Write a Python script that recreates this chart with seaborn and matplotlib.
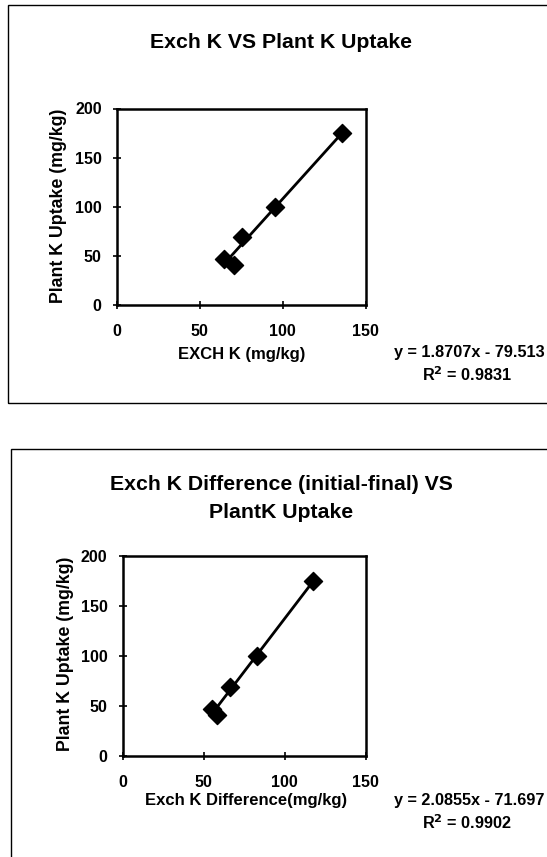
import numpy as np
import pandas as pd
import seaborn as sns
import matplotlib.pyplot as plt
from matplotlib.patches import Rectangle

# -----------------------------
# Data
# -----------------------------
plant_k_uptake = [47, 41, 69, 100, 175]
exch_k = [64.6, 70.6, 75.7, 95.3, 136]
exch_k_diff = [55, 58, 66, 83, 117.5]

top_eq = 'y = 1.8707x - 79.513'
top_r2 = 'R$^2$ = 0.9831'
bot_eq = 'y = 2.0855x - 71.697'
bot_r2 = 'R$^2$ = 0.9902'

x_ticks = [0, 50, 100, 150]
y_ticks = [0, 50, 100, 150, 200]

df_top = pd.DataFrame({'ExchK': exch_k, 'Uptake': plant_k_uptake})
df_bot = pd.DataFrame({'ExchKDiff': exch_k_diff, 'Uptake': plant_k_uptake})

# -----------------------------
# Style
# -----------------------------
sns.set_theme(style='ticks')
plt.rcParams['font.family'] = ['Liberation Sans', 'DejaVu Sans']
plt.rcParams['font.weight'] = 'bold'
plt.rcParams['text.color'] = 'black'
plt.rcParams['axes.labelcolor'] = 'black'
plt.rcParams['mathtext.default'] = 'bf'

W, H = 547, 857
fig = plt.figure(figsize=(W / 100, H / 100), dpi=100)
fig.patch.set_facecolor('white')

# outer chart frames
fig.patches.append(Rectangle((7.7 / W, 1 - 403 / H), 1.0, (403 - 5) / H,
                             transform=fig.transFigure, fill=False,
                             edgecolor='black', linewidth=1.0))
fig.patches.append(Rectangle((11 / W, -0.05), 1.0, 0.05 + (857 - 449) / H,
                             transform=fig.transFigure, fill=False,
                             edgecolor='black', linewidth=1.0))


def make_axes(left, top, right, bottom):
    return fig.add_axes([left / W, 1 - bottom / H, (right - left) / W, (bottom - top) / H])


def style_axes(ax):
    ax.set_xlim(0, 150)
    ax.set_ylim(0, 200)
    ax.set_xticks(x_ticks)
    ax.set_yticks(y_ticks)
    for s in ax.spines.values():
        s.set_visible(True)
        s.set_color('black')
        s.set_linewidth(1.8)
    ax.tick_params(axis='both', direction='inout', length=6, width=1.2,
                   colors='black', labelsize=11.5, bottom=True, left=True)
    ax.tick_params(axis='x', pad=11)
    ax.tick_params(axis='y', pad=8)
    for lab in ax.get_xticklabels() + ax.get_yticklabels():
        lab.set_fontweight('bold')


# -----------------------------
# 1. Exch K vs Plant K Uptake
# -----------------------------
ax1 = make_axes(117, 108.5, 365.5, 305)
sns.regplot(x='ExchK', y='Uptake', data=df_top, ax=ax1, ci=None, marker='D',
            scatter_kws={'s': 85, 'color': 'black', 'alpha': 1},
            line_kws={'color': 'black', 'linewidth': 2})
style_axes(ax1)
ax1.set_xlabel('EXCH K (mg/kg)', fontsize=12, fontweight='bold', va='center')
ax1.set_ylabel('Plant K Uptake (mg/kg)', fontsize=12.8, fontweight='bold', va='center')
ax1.xaxis.set_label_coords(0.5, -(354 - 305) / 196.5)
ax1.yaxis.set_label_coords(-(117 - 59) / 248.5, 0.505)

fig.text(281 / W, 1 - 42.7 / H, 'Exch K VS Plant K Uptake', ha='center', va='center',
         fontsize=15.3, fontweight='bold')
fig.text(469 / W, 1 - 353 / H, top_eq, ha='center', va='center', fontsize=11.7, fontweight='bold')
fig.text(467 / W, 1 - 375 / H, top_r2, ha='center', va='center', fontsize=11.7, fontweight='bold')

# -----------------------------
# 2. Exch K Difference vs Plant K Uptake
# -----------------------------
ax2 = make_axes(122.8, 556, 365.7, 756)
sns.regplot(x='ExchKDiff', y='Uptake', data=df_bot, ax=ax2, ci=None, marker='D',
            scatter_kws={'s': 85, 'color': 'black', 'alpha': 1},
            line_kws={'color': 'black', 'linewidth': 2})
style_axes(ax2)
ax2.set_xlabel('Exch K Difference(mg/kg)', fontsize=12, fontweight='bold', va='center')
ax2.set_ylabel('Plant K Uptake (mg/kg)', fontsize=12.8, fontweight='bold', va='center')
ax2.xaxis.set_label_coords(0.507, -(801 - 756) / 200)
ax2.yaxis.set_label_coords(-(122.8 - 66) / 242.9, 0.51)

fig.text(281 / W, 1 - 485 / H, 'Exch K Difference (initial-final) VS', ha='center',
         va='center', fontsize=15.3, fontweight='bold')
fig.text(281 / W, 1 - 513 / H, 'PlantK Uptake', ha='center', va='center',
         fontsize=15.3, fontweight='bold')
fig.text(469 / W, 1 - 801 / H, bot_eq, ha='center', va='center', fontsize=11.7, fontweight='bold')
fig.text(467 / W, 1 - 823 / H, bot_r2, ha='center', va='center', fontsize=11.7, fontweight='bold')

fig.savefig('out.png', dpi=100, facecolor='white')
